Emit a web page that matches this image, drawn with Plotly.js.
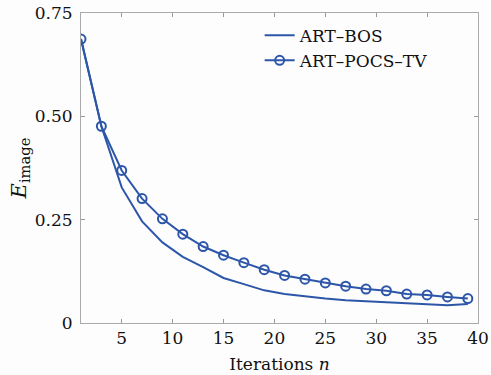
<!DOCTYPE html>
<html>
<head>
<meta charset="utf-8">
<script src="https://cdn.plot.ly/plotly-3.0.1.min.js"></script>
<style>html,body{margin:0;padding:0;background:#fdfdfd;}#chart{width:491px;height:375px;}</style>
</head>
<body>
<div id="chart"></div>
<script>
const iterations = [1,3,5,7,9,11,13,15,17,19,21,23,25,27,29,31,33,35,37,39];
const artBos = [0.687,0.476,0.328,0.246,0.195,0.160,0.135,0.109,0.094,0.079,0.070,0.064,0.059,0.055,0.052,0.050,0.048,0.046,0.043,0.046];
const artPocsTv = [0.687,0.476,0.369,0.301,0.252,0.215,0.185,0.164,0.146,0.129,0.115,0.106,0.097,0.089,0.082,0.078,0.070,0.068,0.063,0.059];
const xTicks = [5,10,15,20,25,30,35,40];
const yTicks = [0,0.25,0.5,0.75];
const yTickText = ['0','0.25','0.50','0.75'];
const color = '#2d56a9';
const font = 'DejaVu Serif, Liberation Serif, serif';

const traces = [
  {x: iterations, y: artBos, name: 'ART\u2013BOS', mode: 'lines', line: {color: color, width: 2}},
  {x: iterations, y: artPocsTv, name: 'ART\u2013POCS\u2013TV', mode: 'lines+markers',
   line: {color: color, width: 2},
   marker: {symbol: 'circle-open', size: 9, color: color, line: {width: 2, color: color}}}
];

const layout = {
  width: 491, height: 375,
  margin: {l: 81, r: 13, t: 13, b: 52},
  paper_bgcolor: '#fdfdfd', plot_bgcolor: '#fdfdfd',
  font: {family: font, size: 17, color: '#111'},
  showlegend: true,
  legend: {x: 0.45, y: 0.985, xanchor: 'left', yanchor: 'top', bgcolor: 'rgba(0,0,0,0)',
           font: {family: font, size: 17, color: '#111'}, tracegroupgap: 0, itemwidth: 30},
  xaxis: {range: [1, 40], tickvals: xTicks, ticks: 'inside', ticklen: 4, tickcolor: '#999',
          showline: true, linecolor: '#aaa', linewidth: 1, mirror: 'ticks', showgrid: false, zeroline: false,
          tickfont: {family: font, size: 17, color: '#111'},
          title: {text: 'Iterations <i>n</i>', font: {family: font, size: 17, color: '#111'}, standoff: 10}},
  yaxis: {range: [0, 0.75], tickvals: yTicks, ticktext: yTickText, ticks: 'inside', ticklen: 4, tickcolor: '#999',
          showline: true, linecolor: '#aaa', linewidth: 1, mirror: 'ticks', showgrid: false, zeroline: false,
          tickfont: {family: font, size: 17, color: '#111'}, ticklabelstandoff: 4,
          title: {text: '<i>E</i><sub>image</sub>', font: {family: font, size: 21, color: '#111'}, standoff: 2}}
};

Plotly.newPlot('chart', traces, layout, {displayModeBar: false, staticPlot: true});
</script>
</body>
</html>
